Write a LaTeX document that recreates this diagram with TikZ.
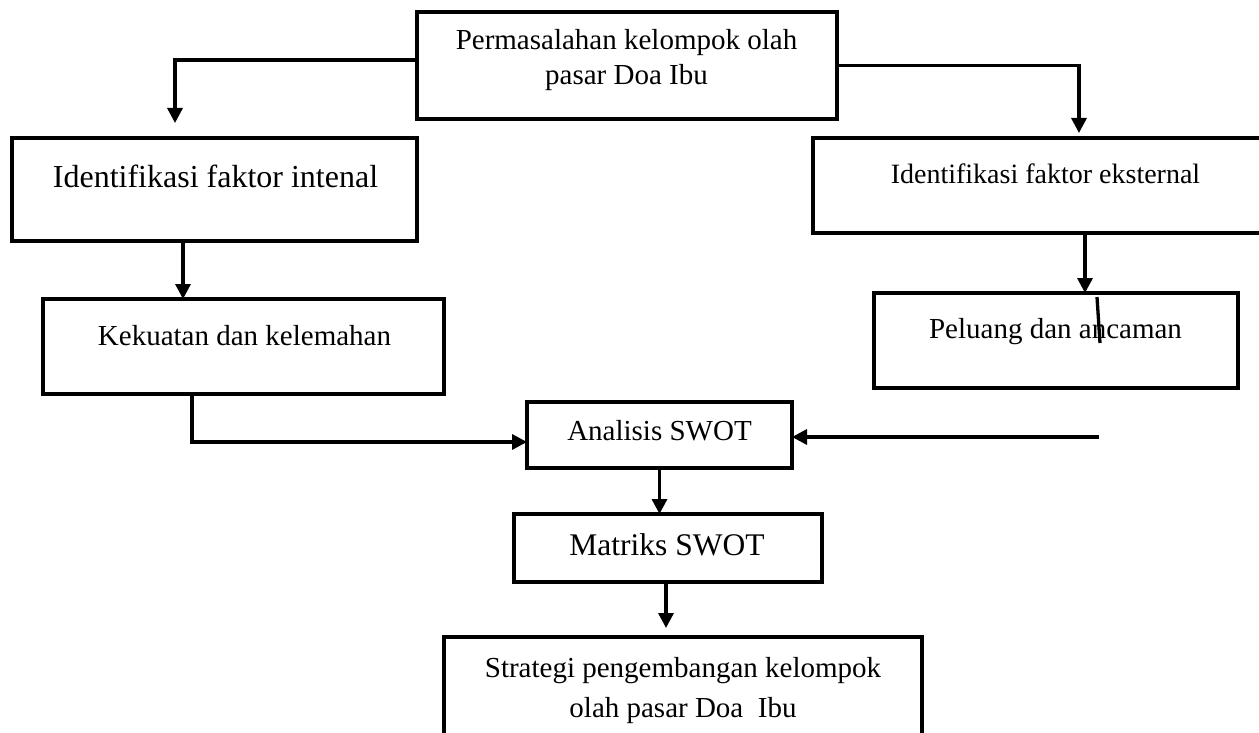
\documentclass[tikz,border=0pt]{standalone}
\usepackage{fontspec}
\setmainfont{Liberation Serif}
\usetikzlibrary{arrows.meta}
\begin{document}
\begin{tikzpicture}[x=1pt,y=-1pt,
  box/.style={draw=black, line width=3.8pt, inner sep=0pt, outer sep=0pt},
  lbl/.style={inner sep=0pt, outer sep=0pt, anchor=base, align=center},
  arr/.style={line width=3.3pt, -{Triangle[width=15pt,length=15pt]}},
  ln/.style={line width=3.3pt}]
\useasboundingbox (0,0) rectangle (1259,733);
\clip (0,0) rectangle (1259,733);
\fill[white] (0,0) rectangle (1259,733);
% boxes
\node[box, minimum width=420pt, minimum height=107pt] (top) at (627,65.5) {};
\node[box, minimum width=405pt, minimum height=103pt] (lft) at (214.5,189.5) {};
\node[box, minimum width=465pt, minimum height=95pt] (rgt) at (1045.5,185.5) {};
\node[box, minimum width=401pt, minimum height=95pt] (kek) at (243.5,346.5) {};
\node[box, minimum width=364pt, minimum height=95pt] (pel) at (1056,340.5) {};
\node[box, minimum width=265pt, minimum height=66pt] (swot) at (659.5,435) {};
\node[box, minimum width=308pt, minimum height=68pt] (mat) at (668,548) {};
\node[box, minimum width=478pt, minimum height=143pt] (str) at (683,708.5) {};
% texts
\node[lbl, font=\fontsize{29}{35}\selectfont] (ttop) at (626.5,85) {Permasalahan kelompok olah\\pasar Doa Ibu};
\node[lbl, font=\fontsize{32}{38}\selectfont] (tlft) at (215.5,188) {Identifikasi faktor intenal};
\node[lbl, font=\fontsize{28}{34}\selectfont] (trgt) at (1045.5,183) {Identifikasi faktor eksternal};
\node[lbl, font=\fontsize{29}{35}\selectfont] (tkek) at (244.5,345) {Kekuatan dan kelemahan};
\node[lbl, font=\fontsize{29}{35}\selectfont] (tpel) at (1055.5,338) {Peluang dan ancaman};
\node[lbl, font=\fontsize{29}{35}\selectfont] (tswot) at (659.5,440) {Analisis SWOT};
\node[lbl, font=\fontsize{31.5}{38}\selectfont] (tmat) at (667,555) {Matriks SWOT};
\node[lbl, font=\fontsize{29}{40}\selectfont] (tstr) at (683,717) {Strategi pengembangan kelompok\\olah pasar Doa\ \ Ibu};
% free ends
\coordinate (c1) at (175,123);
\coordinate (c2) at (1079,133);
\coordinate (c3) at (1099,437);
% connectors
\draw[arr] ([yshift=5.5pt]top.west) -| (c1);
\draw[arr] (top.east) -| (c2);
\draw[arr] ([xshift=-31.5pt]lft.south) -- ([xshift=-31.5pt]lft.south |- kek.north);
\draw[arr] ([xshift=39.5pt]rgt.south) -- ([xshift=39.5pt]rgt.south |- pel.north);
\draw[ln] (1097,297) -- (1100,343);
\draw[arr] ([xshift=-51.5pt]kek.south) |- ([yshift=-7pt]swot.west);
\draw[arr] (c3) -- (swot.east |- c3);
\draw[arr] (swot.south) -- (swot.south |- mat.north);
\draw[arr] ([xshift=-2pt]mat.south) -- ([xshift=-2pt,yshift=9pt]mat.south |- str.north);
\end{tikzpicture}
\end{document}
